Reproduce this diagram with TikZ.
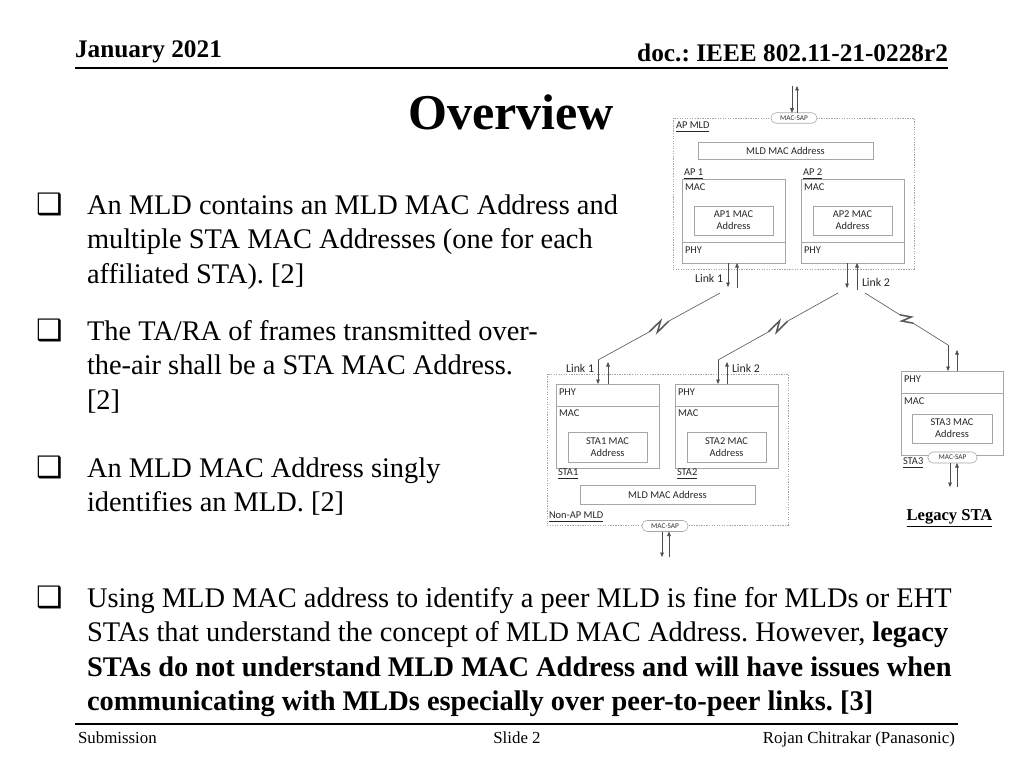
\documentclass[tikz,border=0pt]{standalone}
\usepackage{fontspec}
\setmainfont{Liberation Serif}
\newfontfamily\diagfont{Carlito}
\newfontfamily\bulletfont{DejaVu Sans}
\usetikzlibrary{fit,calc,arrows.meta}
\definecolor{boxgray}{HTML}{A6A6A6}
\definecolor{arrowgray}{HTML}{4D4D4D}
\definecolor{boltgray}{HTML}{5A5A5A}
\frenchspacing

\begin{document}
\begin{tikzpicture}[x=0.025cm, y=-0.025cm,
    every node/.style={inner sep=0pt, outer sep=0pt},
    hdr/.style={font=\bfseries\fontsize{18}{22}\selectfont, anchor=base west},
    foot/.style={font=\fontsize{12}{14}\selectfont, anchor=base},
    para/.style={font=\fontsize{20.2}{24.5}\selectfont, anchor=base west, align=left},
    bullet/.style={font=\bulletfont\fontsize{21}{24}\selectfont, anchor=base west},
    dtext/.style={font=\diagfont\fontsize{7.4}{8.6}\selectfont, text=black!85},
    lbl/.style={dtext, anchor=west},
    linklbl/.style={font=\diagfont\fontsize{8.4}{10}\selectfont, text=black!85},
    box/.style={draw=boxgray, line width=0.5pt},
    sized/.style 2 args={minimum width=#1*0.7113pt, minimum height=#2*0.7113pt},
    mldgroup/.style={draw=boxgray, line width=0.45pt, dash pattern=on 0.9pt off 0.9pt},
    sap/.style={draw=boxgray, fill=white, rounded corners=3.6pt, text=black!80, font=\diagfont\fontsize{5.2}{6}\selectfont},
    sig/.style={draw=arrowgray, line width=0.45pt, -{Triangle[length=3.2pt,width=2.6pt]}},
    bolt/.style={draw=boltgray, line width=0.45pt},
    zig/.style={draw=boltgray, line width=1.1pt}
  ]
    \useasboundingbox[fill=white] (0,0) rectangle (1024,768);

    \node[hdr] (date) at (75,58) {January 2021};
    \node[hdr, anchor=base east] (docid) at (948,62) {doc.: IEEE 802.11-21-0228r2};
    \draw[line width=1.4pt] (75,68) -- (948,68);
    \node[font=\bfseries\fontsize{35.6}{40}\selectfont, anchor=base] (title) at (511,130) {Overview};

    \foreach \y/\n in {214/1,340/2,477/3,607/4} {
      \node[bullet] (b\n) at (36,\y) {❑};
    }
    \node[para] (p1) at (87,283) {An MLD contains an MLD MAC Address and\\multiple STA MAC Addresses (one for each\\affiliated STA). [2]};
    \node[para] (p2) at (87,409) {The TA/RA of frames transmitted over-\\the-air shall be a STA MAC Address.\\{}[2]};
    \node[para] (p3) at (87,511.5) {An MLD MAC Address singly\\identifies an MLD. [2]};
    \node[para] (p4) at (87,710.5) {Using MLD MAC address to identify a peer MLD is fine for MLDs or EHT\\STAs that understand the concept of MLD MAC Address. However, \textbf{legacy}\\\textbf{STAs do not understand MLD MAC Address and will have issues when}\\\textbf{communicating with MLDs especially over peer-to-peer links. [3]}};

    \draw[line width=1.2pt] (75,724) -- (958,724);
    \node[foot, anchor=base west] (sub) at (78,743) {Submission};
    \node[foot] (slide) at (517,743) {Slide 2};
    \node[foot, anchor=base east] (auth) at (955,743) {Rojan Chitrakar (Panasonic)};

    \node[mldgroup, fit={(673,118) (914,269)}] (apmld) {};
    \node[lbl] at (676,127) {\underline{AP MLD}};
    \node[box, dtext, sized={175}{17}] (apaddr) at (785.5,150.5) {MLD MAC Address};
    \foreach \n/\x in {1/682, 2/801} {
      \node[box, fit={(\x,179) (\x+103,263)}] (ap\n) {};
      \draw[box] (\x,242) -- (\x+103,242);
      \node[box, dtext, sized={79}{29}, align=center] (apaddr\n) at (\x+51.5,220.5) {AP\n{} MAC\\Address};
      \node[lbl] at (\x+2,174) {\underline{AP \n}};
      \node[lbl] at (\x+3,187) {MAC};
      \node[lbl] at (\x+3,250) {PHY};
    }
    \node[sap, sized={46}{10.5}] (apsap) at (794,118) {MAC-SAP};

    \node[mldgroup, fit={(547,374) (788,525)}] (nonap) {};
    \foreach \n/\x in {1/556, 2/675} {
      \node[box, fit={(\x,384) (\x+103,468)}] (sta\n) {};
      \draw[box] (\x,406) -- (\x+103,406);
      \node[box, dtext, sized={79}{30}, align=center] (staaddr\n) at (\x+51.5,447) {STA\n{} MAC\\Address};
      \node[lbl] at (\x+2,474) {\underline{STA\n}};
      \node[lbl] at (\x+3,392) {PHY};
      \node[lbl] at (\x+3,413) {MAC};
    }
    \node[box, dtext, sized={175}{19}] (staaddr) at (667.5,494.5) {MLD MAC Address};
    \node[lbl] at (549,517) {\underline{Non-AP MLD}};
    \node[sap, sized={46}{11}] (stasap) at (665,526) {MAC-SAP};

    \node[box, fit={(901,371) (1003,455)}] (sta3) {};
    \draw[box] (901,393) -- (1003,393);
    \node[lbl] at (904,379) {PHY};
    \node[lbl] at (904,401) {MAC};
    \node[box, dtext, sized={80}{29}, align=center] (staaddr3) at (952,428.5) {STA3 MAC\\Address};
    \node[sap, sized={49}{11}] (legsap) at (952.5,457.5) {MAC-SAP};
    \node[lbl] at (903,463) {\underline{STA3}};
    \node[font=\bfseries\fontsize{11.8}{14}\selectfont] (legacy) at (949.5,518) {\underline{Legacy STA}};

    \coordinate (apdn) at (792,86);
    \coordinate (apup) at (797,86);
    \coordinate (ap1dn) at (728,287);
    \coordinate (ap1up) at (737,288);
    \coordinate (ap2dn) at (847,288);
    \coordinate (ap2up) at (857,290);
    \coordinate (sta1dn) at (598,360);
    \coordinate (sta1up) at (608,362);
    \coordinate (sta2dn) at (718,360);
    \coordinate (sta2up) at (727,362);
    \coordinate (sta3dn) at (948,345);
    \coordinate (sta3up) at (957,350);
    \coordinate (stadn) at (662,557);
    \coordinate (staup) at (669,557);
    \coordinate (legdn) at (950,487);
    \coordinate (legup) at (957,487);
    \coordinate (bolt1) at (720,293);
    \coordinate (bolt2) at (838,293);
    \coordinate (bolt3) at (865,293);

    \draw[sig] (apdn) -- (apdn |- apsap.north);
    \draw[sig] (apup |- apsap.north) -- (apup);
    \foreach \n in {1,2} {
      \draw[sig] (ap\n.south -| ap\n dn) -- (ap\n dn);
      \draw[sig] (ap\n up) -- (ap\n.south -| ap\n up);
    }
    \foreach \n in {1,2,3} {
      \draw[sig] (sta\n dn) -- (sta\n dn |- sta\n.north);
      \draw[sig] (sta\n.north -| sta\n up) -- (sta\n up);
    }
    \draw[sig] (stasap.south -| stadn) -- (stadn);
    \draw[sig] (staup) -- (stasap.south -| staup);
    \draw[sig] (legsap.south -| legdn) -- (legdn);
    \draw[sig] (legup) -- (legsap.south -| legup);

    \node[linklbl, anchor=east] (ap1link) at (723,278) {Link 1};
    \node[linklbl, anchor=west] (ap2link) at (862,282) {Link 2};
    \node[linklbl, anchor=east] (sta1link) at (594,368) {Link 1};
    \node[linklbl, anchor=west] (sta2link) at (732,368) {Link 2};

    \foreach \s/\e in {bolt1/sta1dn, bolt2/sta2dn, bolt3/sta3dn} {
      \draw[bolt] (\s) -- ($(\s)!0.42!(\e)$);
      \draw[zig] ($(\s)!0.42!(\e)$) -- ($(\s)!0.53!(\e)!3pt!90:(\e)$) -- ($(\s)!0.47!(\e)!3pt!-90:(\e)$) -- ($(\s)!0.58!(\e)$);
      \draw[bolt] ($(\s)!0.58!(\e)$) -- (\e);
    }
\end{tikzpicture}
\end{document}
